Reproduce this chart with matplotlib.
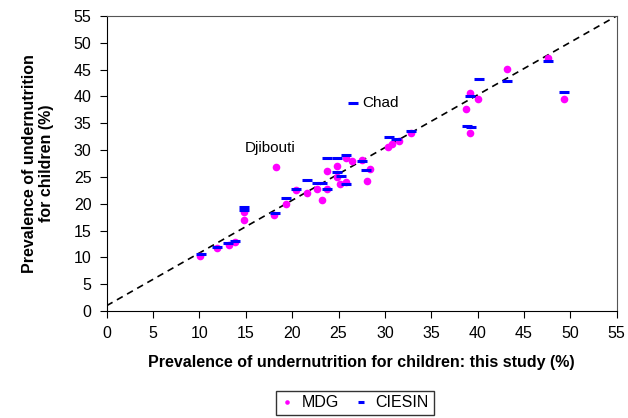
import matplotlib
matplotlib.use("Agg")
import matplotlib.pyplot as plt

plt.rcParams['font.family'] = ['Liberation Sans', 'DejaVu Sans']

# MDG estimates (x: this study, y: MDG)
mdg_x = [10.1, 11.9, 13.2, 13.8, 14.85, 14.85, 18.2, 18.05, 19.3, 20.4, 21.6, 22.65,
         23.2, 23.8, 23.8, 24.85, 24.8, 25.2, 25.75, 25.8, 26.5, 27.5, 28.4, 28.05,
         30.35, 30.8, 31.5, 32.8, 38.8, 39.2, 39.2, 40.05, 43.2, 47.6, 49.3]
mdg_y = [10.3, 11.7, 12.3, 12.8, 17.0, 18.4, 26.8, 17.8, 19.9, 22.6, 22.0, 22.7,
         20.7, 26.0, 22.7, 27.1, 25.0, 23.6, 24.0, 28.6, 28.0, 28.1, 26.4, 24.2,
         30.5, 31.1, 31.6, 33.1, 37.7, 40.6, 33.1, 39.6, 45.1, 47.2, 39.6]

# CIESIN estimates
ciesin_x = [10.2, 11.9, 13.1, 13.8, 14.85, 14.85, 18.15, 19.3, 20.45, 21.6, 22.7, 23.2,
            23.8, 23.8, 24.85, 24.8, 25.3, 25.8, 25.8, 27.5, 28.0, 26.55,
            30.45, 31.25, 32.8, 39.15, 38.9, 39.3, 40.1, 43.2, 47.6, 49.3]
ciesin_y = [10.6, 11.9, 12.7, 13.1, 19.4, 18.8, 18.3, 21.1, 22.7, 24.5, 23.8, 23.9,
            22.7, 28.5, 28.5, 25.9, 25.2, 29.1, 23.6, 28.0, 26.2, 38.7,
            32.4, 32.1, 33.6, 40.0, 34.4, 34.2, 43.3, 42.9, 46.5, 40.8]

ticks = list(range(0, 56, 5))

fig = plt.figure(figsize=(6.28, 4.18), dpi=100)
ax = fig.add_axes([0.170, 0.256, 0.812, 0.706])

ax.plot([0, 55], [1, 55], color='black', linestyle=(0, (4, 3)), linewidth=1.2, zorder=1)
ax.plot(mdg_x, mdg_y, 'o', color='#ff00ff', markersize=5.5, markeredgewidth=0,
        label='MDG', zorder=2)
ax.plot(ciesin_x, ciesin_y, '_', color='#0000ff', markersize=7, markeredgewidth=2.2,
        label='CIESIN', zorder=3)

ax.text(17.6, 30.4, 'Djibouti', fontsize=11, ha='center', va='center')
ax.text(27.6, 38.7, 'Chad', fontsize=11, va='center')

ax.set_xlim(0, 55)
ax.set_ylim(0, 55)
ax.set_xticks(ticks)
ax.set_yticks(ticks)
ax.tick_params(direction='out', length=5, labelsize=11.5, pad=6)
for s in ['top', 'right']:
    ax.spines[s].set_color('#555555')

ax.set_xlabel('Prevalence of undernutrition for children: this study (%)',
              fontsize=11.5, fontweight='bold', labelpad=10)
ax.set_ylabel('Prevalence of undernutrition\nfor children (%)',
              fontsize=11.5, fontweight='bold', labelpad=14)

fig.legend(loc='center', bbox_to_anchor=(0.565, 0.036), ncol=2, fontsize=11.5,
           frameon=True, fancybox=False, edgecolor='black', handlelength=0.8,
           handletextpad=0.5, columnspacing=1.0, borderpad=0.3, markerscale=0.6)

fig.savefig('out.png', dpi=100)
